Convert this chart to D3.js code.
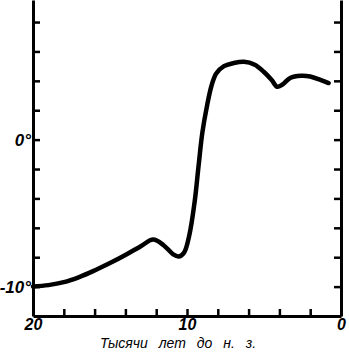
<!DOCTYPE html>
<html>
<head>
<meta charset="utf-8">
<script src="https://cdn.jsdelivr.net/npm/d3@7"></script>
<style>
  body { margin: 0; background: #fff; }
  svg { display: block; }
</style>
</head>
<body>
<svg id="chart" width="349" height="356"></svg>
<script>
// thousands of years BC and temperature anomaly
let ageKyr = [20, 19, 18, 17, 16, 15, 14, 13, 12.2, 11.5, 10.9, 10.55, 10.2, 9.85, 9.5, 9.25, 9.0, 8.7, 8.4, 8.1, 7.6, 7.0, 6.3, 5.6, 5.0, 4.5, 4.15, 3.8, 3.3, 2.6, 2.0, 1.3, 0.8]
let tempDeg = [-10.0, -9.9, -9.7, -9.35, -8.9, -8.4, -7.85, -7.25, -6.8, -7.2, -7.8, -7.95, -7.7, -6.5, -4.2, -1.8, 0.5, 2.3, 3.7, 4.5, 5.0, 5.2, 5.3, 5.1, 4.6, 4.05, 3.6, 3.75, 4.2, 4.35, 4.3, 4.05, 3.85]

let xTicks = [20, 18, 16, 14, 12, 10, 8, 6, 4, 2, 0]
let xLabels = {20: '20', 10: '10', 0: '0'}
let yTicks = [-10, -8, -6, -4, -2, 0, 2, 4, 6, 8]
let yLabels = {0: '0°', '-10': '-10°'}

let data = ageKyr.map((d, i) => {return {'age': d, 'temp': tempDeg[i]}})

let svg = d3.select('#chart')
let mLeft = 33, mRight = 341, mTop = 0, mBottom = 316

let x = d3.scaleLinear([20, 0], [mLeft, mRight])
let y = d3.scaleLinear([-12, 9.5], [mBottom, mTop])

// axes, ticks pointing inwards
let xAxis = d3.axisBottom(x).tickValues(xTicks).tickSize(-7).tickSizeOuter(0).tickPadding(3)
    .tickFormat((d) => {return xLabels[d] || ''})
let yAxis = d3.axisLeft(y).tickValues(yTicks).tickSize(-7).tickSizeOuter(0).tickPadding(2)
    .tickFormat((d) => {return yLabels[d] || ''})
let yAxisR = d3.axisRight(y).tickValues(yTicks).tickSize(-7).tickSizeOuter(0).tickFormat('')

function styleAxis(g){
    g.selectAll('path.domain').attr('stroke', '#000').attr('stroke-width', 3)
    g.selectAll('.tick line').attr('stroke', '#000').attr('stroke-width', 2.5)
    g.selectAll('text')
        .attr('fill', '#000')
        .style('font-family', '"Liberation Sans", Arial, sans-serif')
        .style('font-style', 'italic')
        .style('font-weight', 'bold')
}

svg.append('g').attr('transform', `translate(0,${mBottom})`).call(xAxis).call(styleAxis)
    .selectAll('text').style('font-size', '16px')
let gy = svg.append('g').attr('transform', `translate(${mLeft},0)`).call(yAxis).call(styleAxis)
gy.selectAll('text').style('font-size', '17px')
svg.append('g').attr('transform', `translate(${mRight},0)`).call(yAxisR).call(styleAxis)

// temperature curve
let line = d3.line()
    .x((d) => {return x(d.age)})
    .y((d) => {return y(d.temp)})
    .curve(d3.curveCatmullRom.alpha(0.5))

svg.append('path')
    .datum(data)
    .attr('d', line)
    .attr('fill', 'none')
    .attr('stroke', '#000')
    .attr('stroke-width', 4.5)
    .attr('stroke-linecap', 'round')
    .attr('stroke-linejoin', 'round')

// axis title
svg.append('text')
    .attr('x', 178)
    .attr('y', 348)
    .attr('text-anchor', 'middle')
    .style('font-family', '"Liberation Sans", Arial, sans-serif')
    .style('font-style', 'italic')
    .style('font-size', '14px')
    .style('word-spacing', '7px')
    .text('Тысячи лет до н. з.')
</script>
</body>
</html>
